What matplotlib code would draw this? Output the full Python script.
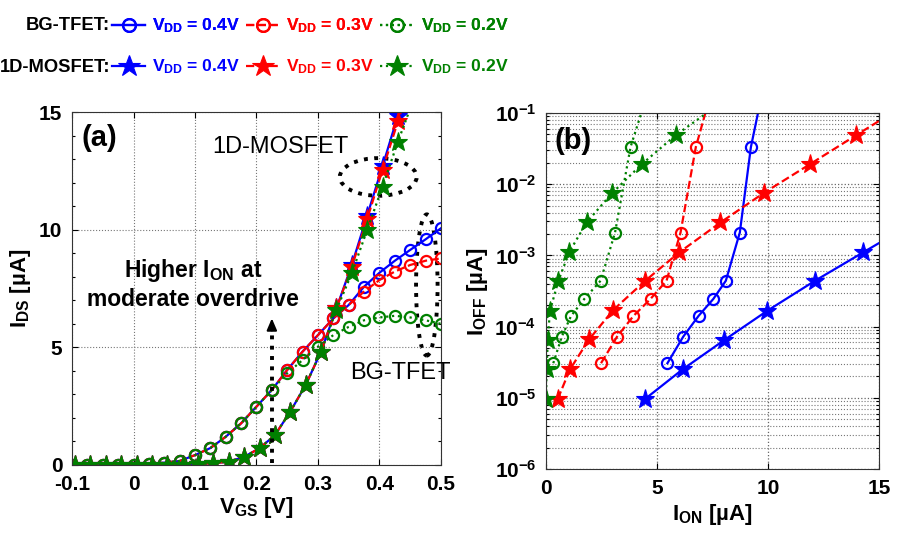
import numpy as np
import matplotlib
matplotlib.use('Agg')
import matplotlib.pyplot as plt
from matplotlib import font_manager
from matplotlib.patches import Ellipse
from matplotlib.ticker import MultipleLocator, LogLocator, NullFormatter

# ---- (a) I_DS vs V_GS ----
vgs_tfet = [-0.1, -0.075, -0.05, -0.025, 0.0, 0.025, 0.05, 0.075, 0.1, 0.125, 0.15, 0.175, 0.2,
            0.225, 0.25, 0.275, 0.3, 0.325, 0.35, 0.375, 0.4, 0.425, 0.45, 0.475, 0.5]
ids_tfet_04 = [0.0, 0.0, 0.01, 0.01, 0.02, 0.03, 0.1, 0.17, 0.42, 0.72, 1.2, 1.77, 2.48,
               3.19, 4.04, 4.82, 5.52, 6.23, 6.8, 7.58, 8.17, 8.68, 9.14, 9.59, 10.06]
ids_tfet_03 = [0.0, 0.0, 0.01, 0.01, 0.02, 0.03, 0.1, 0.17, 0.42, 0.72, 1.2, 1.77, 2.48,
               3.19, 4.04, 4.82, 5.52, 6.23, 6.8, 7.37, 7.86, 8.22, 8.5, 8.68, 8.78]
ids_tfet_02 = [0.0, 0.0, 0.01, 0.01, 0.02, 0.03, 0.1, 0.17, 0.42, 0.72, 1.2, 1.77, 2.48,
               3.19, 3.9, 4.46, 5.03, 5.52, 5.87, 6.15, 6.27, 6.34, 6.27, 6.15, 6.0]

vgs_mos = [-0.095, -0.07, -0.045, -0.02, 0.005, 0.03, 0.055, 0.08, 0.105, 0.13, 0.155, 0.18,
           0.205, 0.23, 0.255, 0.28, 0.305, 0.33, 0.355, 0.38, 0.405, 0.43, 0.455]
ids_mos_04 = [0.0, 0.0, 0.0, 0.0, 0.0, 0.0, 0.01, 0.02, 0.04, 0.08, 0.14, 0.35,
              0.71, 1.27, 2.27, 3.4, 4.82, 6.66, 8.5, 10.6, 12.7, 14.85, 17.0]
ids_mos_03 = [0.0, 0.0, 0.0, 0.0, 0.0, 0.0, 0.01, 0.02, 0.04, 0.08, 0.14, 0.35,
              0.71, 1.27, 2.27, 3.4, 4.82, 6.66, 8.42, 10.45, 12.55, 14.6, 16.7]
ids_mos_02 = [0.0, 0.0, 0.0, 0.0, 0.0, 0.0, 0.01, 0.02, 0.04, 0.08, 0.14, 0.35,
              0.71, 1.27, 2.27, 3.4, 4.82, 6.59, 8.15, 9.99, 11.83, 13.74, 15.5]

vgs_ticks = [-0.1, 0.0, 0.1, 0.2, 0.3, 0.4, 0.5]
vgs_ticklabels = ['-0.1', '0', '0.1', '0.2', '0.3', '0.4', '0.5']
ids_ticks = [0, 5, 10, 15]

# ---- (b) I_OFF vs I_ON ----
ion_tfet_04 = [5.47, 6.18, 6.87, 7.54, 8.10, 8.73, 9.23, 9.75]
ion_tfet_03 = [2.48, 3.20, 3.94, 4.71, 5.43, 6.06, 6.75, 7.45]
ion_tfet_02 = [0.33, 0.71, 1.13, 1.73, 2.46, 3.11, 3.81, 4.60]
ioff_tfet = [3.06e-5, 7.2e-5, 1.41e-4, 2.45e-4, 4.4e-4, 2.09e-3, 3.33e-2, 2.0e-1]

ion_mos_04 = [4.46, 6.15, 8.01, 9.97, 12.1, 14.28, 16.5]
ioff_mos_04 = [9.6e-6, 2.5e-5, 6.4e-5, 1.67e-4, 4.37e-4, 1.1e-3, 2.8e-3]
ion_mos_03 = [0.53, 1.08, 1.94, 3.03, 4.46, 6.0, 7.86, 9.83, 11.88, 13.98, 16.1]
ioff_mos_03 = [9.6e-6, 2.5e-5, 6.6e-5, 1.71e-4, 4.37e-4, 1.1e-3, 2.9e-3, 7.6e-3, 1.9e-2, 4.9e-2, 1.26e-1]
ion_mos_02 = [0.0, 0.03, 0.08, 0.18, 0.56, 1.04, 1.83, 2.96, 4.31, 5.85, 8.6]
ioff_mos_02 = [9.6e-6, 2.5e-5, 6.5e-5, 1.67e-4, 4.4e-4, 1.1e-3, 2.9e-3, 7.4e-3, 1.9e-2, 4.9e-2, 2.0e-1]

ion_ticks = [0, 5, 10, 15]
ioff_ticks = [1e-6, 1e-5, 1e-4, 1e-3, 1e-2, 1e-1]
ioff_ticklabels = ['$10^{-6}$', '$10^{-5}$', '$10^{-4}$', '$10^{-3}$', '$10^{-2}$', '$10^{-1}$']

vdd_labels = ['$V_{DD}$ = 0.4V', '$V_{DD}$ = 0.3V', '$V_{DD}$ = 0.2V']
colors = ['#0000ff', '#ff0000', '#008000']
styles = ['-', '--', ':']


def style_axes(ax):
    ax.tick_params(which='both', direction='in', top=True, right=True, labelsize=15, width=0.8)
    ax.tick_params(which='major', length=4, pad=7)
    ax.tick_params(which='minor', length=2.5)
    for lab in ax.get_xticklabels() + ax.get_yticklabels():
        lab.set_fontweight('bold')
    for sp in ax.spines.values():
        sp.set_linewidth(0.8)
        sp.set_color('#333333')


def main():
    plt.rcParams['font.family'] = ['Liberation Sans', 'DejaVu Sans']
    plt.rcParams['mathtext.fontset'] = 'custom'
    plt.rcParams['mathtext.rm'] = 'Liberation Sans'
    plt.rcParams['mathtext.bf'] = 'Liberation Sans:bold'
    plt.rcParams['mathtext.default'] = 'bf'

    # narrow face for the key rows, if there is one
    installed = {f.name for f in font_manager.fontManager.ttflist}
    if 'Liberation Sans Narrow' in installed:
        key_family, key_size, head_size = 'Liberation Sans Narrow', 15.0, 15.5
    else:
        key_family, key_size, head_size = 'Liberation Sans', 12.6, 13.2

    fig = plt.figure(figsize=(8.99, 5.38), dpi=100)
    ax_a = fig.add_axes([0.0801, 0.1357, 0.4104, 0.6561])
    ax_b = fig.add_axes([0.6073, 0.1283, 0.3705, 0.6617])

    # (a): circles = BG-TFET, stars = 1D-MOSFET
    tfet_sets = [ids_tfet_04, ids_tfet_03, ids_tfet_02]
    mos_sets = [ids_mos_04, ids_mos_03, ids_mos_02]
    tfet_lines = []
    mos_lines = []
    for ids, c, ls in zip(tfet_sets, colors, styles):
        ln, = ax_a.plot(vgs_tfet, ids, ls=ls, color=c, lw=1.6, marker='o', ms=8,
                        mfc='none', mec=c, mew=1.6)
        tfet_lines.append(ln)
    for ids, c, ls in zip(mos_sets, colors, styles):
        ln, = ax_a.plot(vgs_mos, ids, ls=ls, color=c, lw=1.6, marker='*', ms=14,
                        mfc=c, mec=c, mew=0.8)
        mos_lines.append(ln)

    ax_a.set_xlim(-0.1, 0.5)
    ax_a.set_ylim(0, 15)
    ax_a.set_xticks(vgs_ticks)
    ax_a.set_xticklabels(vgs_ticklabels)
    ax_a.set_yticks(ids_ticks)
    ax_a.yaxis.set_minor_locator(MultipleLocator(1))
    ax_a.grid(True, which='major', ls=':', color='#777777', lw=0.8)
    style_axes(ax_a)
    ax_a.set_xlabel('$V_{GS}$ [V]', fontsize=16, fontweight='bold')
    ax_a.set_ylabel('$I_{DS}$ [µA]', fontsize=16, fontweight='bold')
    ax_a.xaxis.set_label_coords(0.5, -0.085)
    ax_a.yaxis.set_label_coords(-0.106, 0.5)

    ax_a.text(0.027, 0.926, '(a)', transform=ax_a.transAxes, fontsize=21,
              fontweight='bold', ha='left', va='center')
    ax_a.text(0.564, 0.901, '1D-MOSFET', transform=ax_a.transAxes, fontsize=17,
              ha='center', va='center')
    ax_a.text(0.889, 0.261, 'BG-TFET', transform=ax_a.transAxes, fontsize=17,
              ha='center', va='center', clip_on=False)
    ax_a.text(0.328, 0.552, 'Higher $I_{ON}$ at', transform=ax_a.transAxes, fontsize=16.5,
              fontweight='bold', ha='center', va='center')
    ax_a.text(0.328, 0.470, 'moderate overdrive', transform=ax_a.transAxes, fontsize=16.5,
              fontweight='bold', ha='center', va='center')

    # dotted arrow
    ax_a.plot([0.225, 0.225], [0.1, 6.0], ls=':', color='k', lw=2.8)
    ax_a.annotate('', xy=(0.225, 6.35), xytext=(0.225, 5.6),
                  arrowprops=dict(arrowstyle='-|>,head_width=0.3,head_length=0.7',
                                  color='k', lw=1.5))
    # groups
    ax_a.add_patch(Ellipse((0.398, 12.24), 0.125, 1.6, fill=False, ls=':', lw=2.8, ec='k'))
    ax_a.add_patch(Ellipse((0.477, 7.65), 0.035, 6.0, fill=False, ls=':', lw=2.8, ec='k',
                           clip_on=False))

    # (b): I_OFF vs I_ON
    ion_tfet_sets = [ion_tfet_04, ion_tfet_03, ion_tfet_02]
    mos_b = [(ion_mos_04, ioff_mos_04), (ion_mos_03, ioff_mos_03), (ion_mos_02, ioff_mos_02)]
    for ion, c, ls in zip(ion_tfet_sets, colors, styles):
        ax_b.plot(ion, ioff_tfet, ls=ls, color=c, lw=1.6, marker='o', ms=8,
                  mfc='none', mec=c, mew=1.6)
    for (ion, ioff), c, ls in zip(mos_b, colors, styles):
        ax_b.plot(ion, ioff, ls=ls, color=c, lw=1.6, marker='*', ms=14,
                  mfc=c, mec=c, mew=0.8)

    ax_b.set_yscale('log')
    ax_b.set_xlim(0, 15)
    ax_b.set_ylim(1e-6, 1e-1)
    ax_b.set_xticks(ion_ticks)
    ax_b.set_yticks(ioff_ticks)
    ax_b.set_yticklabels(ioff_ticklabels)
    ax_b.yaxis.set_minor_locator(LogLocator(base=10, subs=np.arange(2, 10)))
    ax_b.yaxis.set_minor_formatter(NullFormatter())
    ax_b.grid(True, which='major', ls=':', color='#666666', lw=0.9)
    ax_b.grid(True, which='minor', axis='y', ls=':', color='#777777', lw=0.8)
    style_axes(ax_b)
    ax_b.set_xlabel('$I_{ON}$ [µA]', fontsize=16, fontweight='bold')
    ax_b.set_ylabel('$I_{OFF}$ [µA]', fontsize=16, fontweight='bold')
    ax_b.xaxis.set_label_coords(0.5, -0.093)
    ax_b.yaxis.set_label_coords(-0.168, 0.497)
    ax_b.text(0.027, 0.921, '(b)', transform=ax_b.transAxes, fontsize=21,
              fontweight='bold', ha='left', va='center')

    # key rows above the panels
    leg_kw = dict(loc='center left', ncol=3, frameon=False,
                  handlelength=1.9, handletextpad=0.4, columnspacing=0.35,
                  borderpad=0, borderaxespad=0, labelcolor='linecolor', numpoints=1,
                  markerscale=1.15,
                  prop={'family': key_family, 'weight': 'bold', 'size': key_size})
    leg1 = fig.legend(tfet_lines, vdd_labels, bbox_to_anchor=(112 / 899, 1 - 26 / 538), **leg_kw)
    fig.legend(mos_lines, vdd_labels, bbox_to_anchor=(112 / 899, 1 - 67 / 538), **leg_kw)
    fig.add_artist(leg1)
    fig.text(110 / 899, 1 - 26 / 538, 'BG-TFET:', fontsize=head_size, fontweight='bold',
             family=key_family, ha='right', va='center')
    fig.text(110 / 899, 1 - 67 / 538, '1D-MOSFET:', fontsize=head_size, fontweight='bold',
             family=key_family, ha='right', va='center')

    fig.savefig('out.png', dpi=100)


if __name__ == "__main__":
    main()
